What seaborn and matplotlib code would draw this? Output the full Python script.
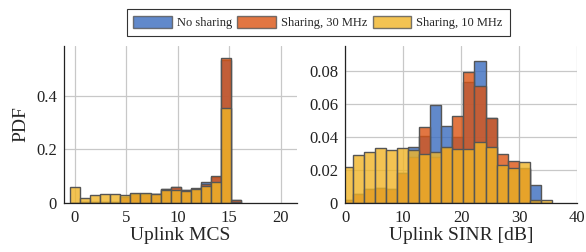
import numpy as np
import pandas as pd
import matplotlib
matplotlib.use("Agg")
import matplotlib.pyplot as plt
import seaborn as sns
from matplotlib.patches import Patch
from matplotlib.ticker import FuncFormatter

# ---------------- data ----------------
series_names = ["No sharing", "Sharing, 30 MHz", "Sharing, 10 MHz"]

mcs_bins = list(range(17))
mcs_no_sharing = [0.000, 0.002, 0.003, 0.004, 0.004, 0.024, 0.032, 0.033, 0.034,
                  0.054, 0.061, 0.048, 0.055, 0.077, 0.097, 0.535, 0.012]
mcs_sharing_30 = [0.000, 0.002, 0.003, 0.004, 0.004, 0.024, 0.032, 0.033, 0.034,
                  0.052, 0.058, 0.048, 0.054, 0.072, 0.102, 0.540, 0.013]
mcs_sharing_10 = [0.060, 0.018, 0.029, 0.032, 0.032, 0.030, 0.036, 0.036, 0.035,
                  0.050, 0.049, 0.046, 0.051, 0.065, 0.080, 0.353, 0.005]

sinr_bin_index = list(range(19))
sinr_no_sharing = [0.0016, 0.0057, 0.0083, 0.0089, 0.0087, 0.0180, 0.0338, 0.0405,
                   0.0590, 0.0466, 0.0400, 0.0730, 0.0859, 0.0512, 0.0220, 0.0200,
                   0.0205, 0.0109, 0.0003]
sinr_sharing_30 = [0.0016, 0.0057, 0.0083, 0.0089, 0.0087, 0.0180, 0.0280, 0.0460,
                   0.0280, 0.0330, 0.0526, 0.0789, 0.0706, 0.0512, 0.0295, 0.0256,
                   0.0210, 0.0015, 0.0003]
sinr_sharing_10 = [0.0218, 0.0289, 0.0307, 0.0331, 0.0319, 0.0335, 0.0320, 0.0298,
                   0.0310, 0.0340, 0.0328, 0.0328, 0.0370, 0.0338, 0.0228, 0.0214,
                   0.0248, 0.0018, 0.0018]

mcs_ticks = [0, 5, 10, 15, 20]
sinr_ticks = [0, 10, 20, 30, 40]
pdf_ticks_mcs = [0, 0.2, 0.4]
pdf_ticks_sinr = [0, 0.02, 0.04, 0.06, 0.08]

# ---------------- style ----------------
sns.set_theme(style="whitegrid")
plt.rcParams["font.family"] = ["Liberation Serif", "DejaVu Serif"]
plt.rcParams["mathtext.fontset"] = "dejavuserif"

colors = ["#3a6cbf", "#db5413", "#f0b527"]
ALPHA = 0.8
EDGE = "#555555"

fig = plt.figure(figsize=(5.86, 2.52), dpi=100)
ax1 = fig.add_axes([64 / 586, 49 / 252, 233 / 586, 157 / 252])
ax2 = fig.add_axes([345 / 586, 49 / 252, 232 / 586, 157 / 252])

# MCS bins: width ~0.98 centred at bin index * width
mcs_w = 0.98
mcs_centers = np.array(mcs_bins) * mcs_w
mcs_edges = np.append(mcs_centers - mcs_w / 2, mcs_centers[-1] + mcs_w / 2)

sinr_w = 1.91
sinr_start = -0.6
sinr_edges = sinr_start + sinr_w * np.arange(len(sinr_bin_index) + 1)
sinr_centers = (sinr_edges[:-1] + sinr_edges[1:]) / 2

def draw(ax, centers, edges, series):
    for vals, col in zip(series, colors):
        df = pd.DataFrame({"x": centers, "w": vals})
        sns.histplot(data=df, x="x", weights="w", bins=[float(e) for e in edges], ax=ax,
                     color=col, alpha=ALPHA, edgecolor=EDGE, linewidth=1.0,
                     stat="count", element="bars", fill=True)

draw(ax1, mcs_centers, mcs_edges, [mcs_no_sharing, mcs_sharing_30, mcs_sharing_10])
draw(ax2, sinr_centers, sinr_edges, [sinr_no_sharing, sinr_sharing_30, sinr_sharing_10])

fmt = FuncFormatter(lambda v, p: "0" if abs(v) < 1e-12 else f"{v:g}")

ax1.set_xlim(-1.07, 21.6)
ax1.set_ylim(0, 0.586)
ax1.set_xticks(mcs_ticks)
ax1.set_yticks(pdf_ticks_mcs)
ax1.yaxis.set_major_formatter(fmt)
ax1.set_xlabel("Uplink MCS", fontsize=14, labelpad=1)
ax1.set_ylabel("PDF", fontsize=14, labelpad=5)

ax2.set_xlim(0, 40)
ax2.set_ylim(0, 0.0948)
ax2.set_xticks(sinr_ticks)
ax2.set_yticks(pdf_ticks_sinr)
ax2.yaxis.set_major_formatter(fmt)
ax2.set_xlabel("Uplink SINR [dB]", fontsize=14, labelpad=1)
ax2.set_ylabel("")

for ax in (ax1, ax2):
    ax.grid(True, color="#c8c8c8", linewidth=0.9)
    ax.set_axisbelow(True)
    for s in ("top", "right"):
        ax.spines[s].set_visible(False)
    for s in ("left", "bottom"):
        ax.spines[s].set_visible(True)
        ax.spines[s].set_color("#222222")
        ax.spines[s].set_linewidth(0.9)
    ax.tick_params(axis="both", labelsize=12, length=0, pad=5, colors="#222222")
    ax.set_facecolor("white")

handles = [Patch(facecolor=c, alpha=ALPHA, edgecolor=EDGE, linewidth=1.0) for c in colors]
leg = fig.legend(handles, series_names, loc="center", bbox_to_anchor=(318 / 586, 1 - 22.5 / 252),
                 ncol=3, fontsize=9, frameon=True, fancybox=False, framealpha=1,
                 edgecolor="#333333", handlelength=3.1, handleheight=1.1,
                 columnspacing=0.4, handletextpad=0.4, borderpad=0.55)
leg.get_frame().set_linewidth(0.8)

fig.savefig("out.png", dpi=100)
